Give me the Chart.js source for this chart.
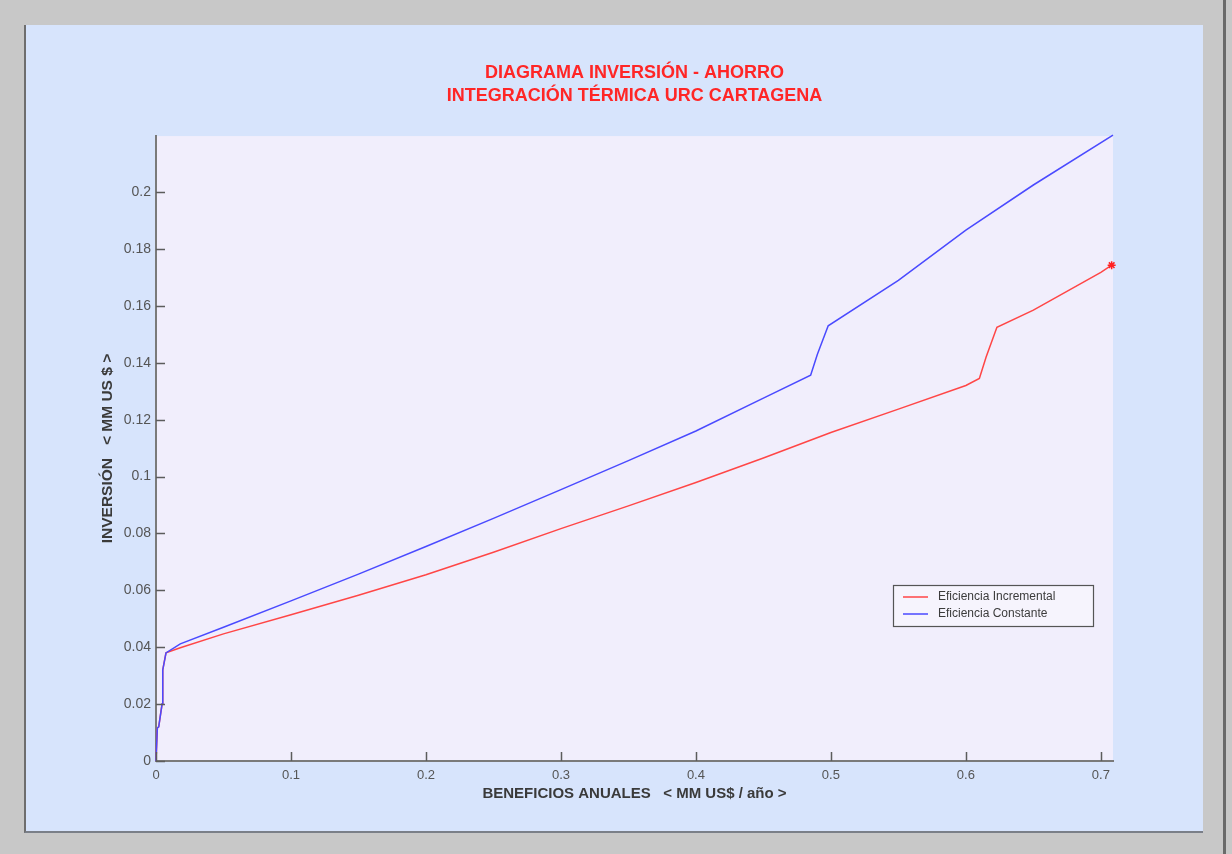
<!DOCTYPE html>
<html>
<head>
<meta charset="utf-8">
<script src="https://cdn.jsdelivr.net/npm/chart.js@4.4.1/dist/chart.umd.min.js"></script>
<style>
  html, body { margin: 0; padding: 0; background: #c8c8c8; }
  #frame { position: relative; width: 1232px; height: 854px; overflow: hidden; background: #c8c8c8; }
  #panel { position: absolute; left: 24px; top: 25px; width: 1179px; height: 808px;
           background: #d7e4fc; border-left: 2px solid #6e6e6e; border-bottom: 2px solid #7a7f88; box-sizing: border-box; }
  #edge { position: absolute; left: 1223px; top: 0; width: 3px; height: 854px; background: #6a6a6a; }
  #c { position: absolute; left: 0; top: 0; }
</style>
</head>
<body>
<div id="frame">
  <div id="panel"></div>
  <div id="edge"></div>
  <canvas id="c" width="1232" height="854"></canvas>
</div>
<script>
// Series: annual benefits (MM US$/año) vs investment (MM US$)
const seriesNames = ['Eficiencia Incremental', 'Eficiencia Constante'];

const incrementalX = [0, 0.001, 0.002, 0.0045, 0.005, 0.0074, 0.018, 0.05, 0.1, 0.15, 0.2, 0.25, 0.3, 0.35, 0.4, 0.45, 0.5, 0.55, 0.6, 0.61, 0.615, 0.623, 0.65, 0.7, 0.708];
const incrementalY = [0, 0.0116, 0.012, 0.02, 0.032, 0.038, 0.0398, 0.0447, 0.0514, 0.0583, 0.0655, 0.0734, 0.0817, 0.0897, 0.0979, 0.1065, 0.1155, 0.1237, 0.132, 0.1345, 0.142, 0.1525, 0.1585, 0.1718, 0.1743];

const constantX = [0, 0.001, 0.002, 0.0045, 0.005, 0.0074, 0.018, 0.05, 0.1, 0.15, 0.2, 0.25, 0.3, 0.35, 0.4, 0.45, 0.485, 0.49, 0.498, 0.55, 0.6, 0.65, 0.709];
const constantY = [0, 0.0116, 0.012, 0.02, 0.032, 0.038, 0.0412, 0.047, 0.0563, 0.0657, 0.0754, 0.0853, 0.0954, 0.1056, 0.116, 0.1276, 0.1356, 0.143, 0.153, 0.169, 0.1866, 0.2025, 0.2200];

const xTicks = [0, 0.1, 0.2, 0.3, 0.4, 0.5, 0.6, 0.7];
const yTicks = [0, 0.02, 0.04, 0.06, 0.08, 0.1, 0.12, 0.14, 0.16, 0.18, 0.2];

const toPoints = (xs, ys) => xs.map((x, i) => ({ x: x, y: ys[i] }));
const fmt = v => String(parseFloat(Number(v).toFixed(3)));

// plot background
const plotBg = {
  id: 'plotBg',
  beforeDraw(chart) {
    const a = chart.chartArea, ctx = chart.ctx;
    ctx.save();
    ctx.fillStyle = '#f1eefc';
    ctx.fillRect(a.left, a.top, a.right - a.left, a.bottom - a.top);
    ctx.restore();
  }
};

// short tick marks pointing into the plot
const innerTicks = {
  id: 'innerTicks',
  afterDraw(chart) {
    const ctx = chart.ctx, a = chart.chartArea;
    const xs = chart.scales.x, ys = chart.scales.y;
    ctx.save();
    ctx.strokeStyle = '#5c5c5c';
    ctx.lineWidth = 1.5;
    ctx.beginPath();
    xTicks.forEach(v => {
      const px = Math.round(xs.getPixelForValue(v)) + 0.5;
      ctx.moveTo(px, a.bottom); ctx.lineTo(px, a.bottom - 9);
    });
    yTicks.forEach(v => {
      const py = Math.round(ys.getPixelForValue(v)) + 0.5;
      ctx.moveTo(a.left, py); ctx.lineTo(a.left + 9, py);
    });
    ctx.stroke();
    ctx.restore();
  }
};

// boxed legend inside the plot, lower right
const boxLegend = {
  id: 'boxLegend',
  afterDatasetsDraw(chart) {
    const ctx = chart.ctx, a = chart.chartArea;
    const w = 200, h = 41;
    const x0 = a.right - 20 - w, y0 = a.bottom - 176;
    ctx.save();
    ctx.fillStyle = '#f6f4fd';
    ctx.fillRect(x0, y0, w, h);
    ctx.strokeStyle = '#555555';
    ctx.lineWidth = 1.2;
    ctx.strokeRect(x0 + 0.5, y0 + 0.5, w, h);
    ctx.font = '12px "Liberation Sans", Arial, sans-serif';
    ctx.textBaseline = 'middle';
    chart.data.datasets.forEach((ds, i) => {
      const yy = y0 + 12 + i * 17;
      ctx.strokeStyle = ds.borderColor;
      ctx.lineWidth = 1.5;
      ctx.beginPath();
      ctx.moveTo(x0 + 10, yy); ctx.lineTo(x0 + 35, yy);
      ctx.stroke();
      ctx.fillStyle = '#3c3c3c';
      ctx.fillText(ds.label, x0 + 45, yy);
    });
    ctx.restore();
  }
};

new Chart(document.getElementById('c'), {
  type: 'line',
  data: {
    datasets: [
      {
        label: seriesNames[0],
        data: toPoints(incrementalX, incrementalY),
        borderColor: '#ff4646',
        borderWidth: 1.5,
        tension: 0,
        order: 1,
        clip: false,
        pointStyle: 'star',
        pointRadius: ctx => (ctx.dataIndex === incrementalX.length - 1 ? 4 : 0),
        pointBorderColor: '#ff2020',
        pointBorderWidth: 1.5
      },
      {
        label: seriesNames[1],
        data: toPoints(constantX, constantY),
        borderColor: '#4a4aff',
        borderWidth: 1.5,
        tension: 0,
        order: 0,
        clip: false,
        pointRadius: 0
      }
    ]
  },
  options: {
    responsive: false,
    animation: false,
    layout: { padding: { left: 90, right: 119, top: 0, bottom: 45 } },
    plugins: {
      legend: { display: false },
      tooltip: { enabled: false },
      title: {
        display: true,
        fullSize: false,
        text: ['DIAGRAMA INVERSIÓN - AHORRO', 'INTEGRACIÓN TÉRMICA URC CARTAGENA'],
        color: '#ff2626',
        font: { family: '"Liberation Sans", Arial, sans-serif', size: 18, weight: 'bold', lineHeight: 1.28 },
        padding: { top: 61.5, bottom: 28.5 }
      }
    },
    scales: {
      x: {
        type: 'linear',
        min: 0,
        max: 0.709,
        afterFit: s => { s.height = 48; },
        border: { display: true, color: '#7a7a7a', width: 2 },
        grid: { display: false, drawTicks: false },
        ticks: {
          stepSize: 0.1,
          includeBounds: false,
          padding: 7,
          maxRotation: 0,
          color: '#555555',
          font: { family: '"Liberation Sans", Arial, sans-serif', size: 13 },
          callback: v => fmt(v)
        },
        title: {
          display: true,
          text: 'BENEFICIOS ANUALES   < MM US$ / año >',
          color: '#3a3a3a',
          font: { family: '"Liberation Sans", Arial, sans-serif', size: 15, weight: 'bold' },
          padding: { top: 0, bottom: 6 }
        }
      },
      y: {
        type: 'linear',
        min: 0,
        max: 0.2197,
        afterFit: s => { s.width = 66; },
        border: { display: true, color: '#7a7a7a', width: 2 },
        grid: { display: false, drawTicks: false },
        ticks: {
          stepSize: 0.02,
          includeBounds: false,
          padding: 5,
          color: '#555555',
          font: { family: '"Liberation Sans", Arial, sans-serif', size: 14 },
          callback: v => fmt(v)
        },
        title: {
          display: true,
          text: 'INVERSIÓN   < MM US $ >',
          color: '#3a3a3a',
          font: { family: '"Liberation Sans", Arial, sans-serif', size: 15.5, weight: 'bold' },
          padding: { top: 8, bottom: 0 }
        }
      }
    }
  },
  plugins: [plotBg, innerTicks, boxLegend]
});
</script>
</body>
</html>
